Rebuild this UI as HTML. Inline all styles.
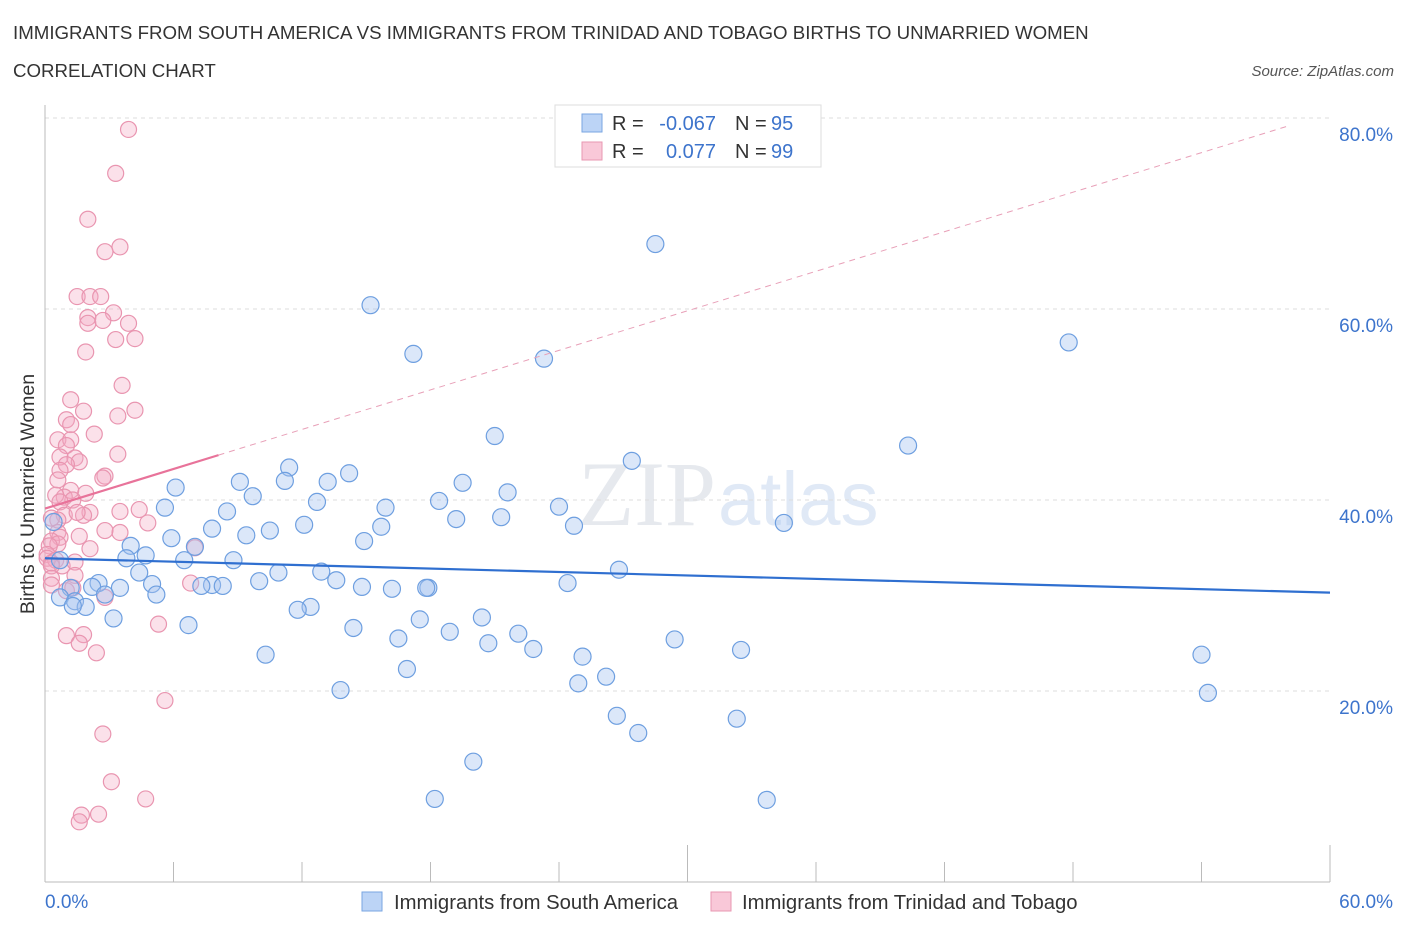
<!DOCTYPE html>
<html><head><meta charset="utf-8"><style>
body{margin:0;background:#fff;font-family:"Liberation Sans",sans-serif;}
svg{display:block}
</style></head><body>
<svg id="chart" width="1406" height="930" xmlns="http://www.w3.org/2000/svg">
<text x="13" y="39" font-size="18.7" fill="#333">IMMIGRANTS FROM SOUTH AMERICA VS IMMIGRANTS FROM TRINIDAD AND TOBAGO BIRTHS TO UNMARRIED WOMEN</text>
<text x="13" y="77" font-size="18.7" fill="#333">CORRELATION CHART</text>
<text x="1394" y="76" font-size="15" fill="#555" font-style="italic" text-anchor="end">Source: ZipAtlas.com</text>
<text x="716" y="525" font-size="92" fill="#e6e9ee" text-anchor="end" font-family="Liberation Serif">ZIP</text>
<text x="718" y="525" font-size="76" fill="#e0e9f6">atlas</text>
<g id="grid"></g><g id="axes"></g>
<g id="pink"></g><g id="blue"></g><g id="lines"></g>
<text transform="translate(34,494) rotate(-90)" font-size="19.5" fill="#333" text-anchor="middle">Births to Unmarried Women</text>
<g>
<rect x="555" y="105" width="266" height="62" fill="#fff" stroke="#ddd"/>
<rect x="582" y="114" width="20" height="18" fill="#bcd4f6" stroke="#7aa6e2"/>
<rect x="582" y="142" width="20" height="18" fill="#f9c8d8" stroke="#e897b2"/>
<text x="612" y="130" font-size="20" fill="#333">R =</text>
<text x="716" y="130" font-size="20" fill="#3d74cc" text-anchor="end">-0.067</text>
<text x="735" y="130" font-size="20" fill="#333">N =</text>
<text x="771" y="130" font-size="20" fill="#3d74cc">95</text>
<text x="612" y="158" font-size="20" fill="#333">R =</text>
<text x="716" y="158" font-size="20" fill="#3d74cc" text-anchor="end">0.077</text>
<text x="735" y="158" font-size="20" fill="#333">N =</text>
<text x="771" y="158" font-size="20" fill="#3d74cc">99</text>
</g>
<g>
<rect x="362" y="892" width="20" height="19" fill="#bcd4f6" stroke="#7aa6e2"/>
<text x="394" y="909" font-size="20.3" fill="#333">Immigrants from South America</text>
<rect x="711" y="892" width="20" height="19" fill="#f9c8d8" stroke="#e897b2"/>
<text x="742" y="909" font-size="20.3" fill="#333">Immigrants from Trinidad and Tobago</text>
</g>
</svg>
<script>
const yTicks=[20,40,60,80];
const xTickLabels=["0.0%","60.0%"];
const blueX=[28.5,15.2,47.8,17.2,23.3,40.3,21.0,27.4,11.4,14.2,9.1,11.2,13.2,19.5,6.1,21.6,9.7,12.7,18.4,15.9,24.0,8.5,5.6,19.2,21.3,24.7,34.5,15.7,12.1,7.8,10.5,9.4,14.9,5.9,4.0,7.0,4.7,8.8,3.8,6.5,0.7,4.4,10.9,12.9,26.8,13.6,10.0,5.0,2.5,2.2,7.8,7.3,8.3,3.5,14.8,16.2,17.9,17.8,24.4,1.2,2.8,5.2,0.7,1.4,1.9,1.3,12.4,11.8,3.2,17.5,20.4,6.7,14.4,18.9,22.1,16.5,20.7,29.4,22.8,32.5,54.0,10.3,25.1,16.9,26.2,24.9,13.8,54.3,26.7,32.3,27.7,20.0,18.2,33.7,0.4];
const blueY=[66.8,60.4,56.5,55.3,54.8,45.7,46.7,44.1,43.4,42.8,41.9,42.0,41.9,41.8,41.3,40.8,40.4,39.8,39.9,39.2,39.3,38.8,39.2,38.0,38.2,37.3,37.6,37.2,37.4,37.0,36.8,36.3,35.7,36.0,35.2,35.1,34.2,33.7,33.9,33.7,33.7,32.4,32.4,32.5,32.7,31.6,31.5,31.2,31.3,30.9,31.1,31.0,31.0,30.8,30.9,30.7,30.8,30.8,31.3,30.8,30.1,30.1,29.8,29.4,28.8,28.9,28.8,28.5,27.6,27.5,27.7,26.9,26.6,26.2,26.0,25.5,25.0,25.4,24.4,24.3,23.8,23.8,23.6,22.3,21.5,20.8,20.1,19.8,17.4,17.1,15.6,12.6,8.7,8.6,37.7];
const pinkX=[3.9,3.3,2.0,3.5,2.8,1.5,2.1,2.6,3.2,2.0,2.0,2.7,3.9,3.3,4.2,1.9,3.6,1.2,1.8,4.2,3.4,1.0,1.2,2.3,0.6,1.2,1.0,3.4,0.7,1.4,1.6,1.0,0.7,2.8,2.7,0.6,1.2,1.9,0.9,0.5,1.3,0.7,2.1,4.4,3.5,1.8,0.9,0.6,0.3,1.5,4.8,0.6,3.5,0.7,2.8,1.6,0.3,0.6,2.1,0.2,0.1,0.1,0.5,0.3,0.8,1.4,0.3,1.4,0.3,0.3,7.0,6.8,1.0,1.3,2.8,1.8,1.0,5.3,2.4,1.6,5.6,2.7,3.1,4.7,1.7,2.5,1.6];
const pinkY=[78.8,74.2,69.4,66.5,66.0,61.3,61.3,61.3,59.6,59.1,58.5,58.8,58.5,56.8,56.9,55.5,52.0,50.5,49.3,49.4,48.8,48.4,47.9,46.9,46.3,46.3,45.7,44.8,44.5,44.4,44.0,43.7,43.1,42.5,42.3,42.1,41.0,40.7,40.3,40.5,40.0,39.8,38.7,39.0,38.8,38.4,38.4,37.9,38.1,38.7,37.6,36.6,36.6,36.1,36.8,36.2,35.7,35.4,34.9,35.2,34.3,33.9,33.7,33.4,33.1,33.5,33.1,32.1,31.8,31.1,35.0,31.3,30.5,30.8,29.8,25.9,25.8,27.0,24.0,25.0,19.0,15.5,10.5,8.7,7.0,7.1,6.3];
const blueTrend=[33.9,30.3];
const pinkTrend=[39.1,44.7,8.1,58.1,79.2];
const NS="http://www.w3.org/2000/svg";
const X=v=>45+v*(1285/60);
const Y=v=>882-v*9.55;
function mk(p,t,a){const e=document.createElementNS(NS,t);for(const k in a)e.setAttribute(k,a[k]);p.appendChild(e);return e;}
const grid=document.getElementById('grid'),axes=document.getElementById('axes');
yTicks.forEach(t=>{
 const l=mk(grid,'line',{x1:45,x2:1330,y1:Y(t),y2:Y(t),stroke:'#ddd','stroke-dasharray':'4,4'});
 
 
 const tx=mk(grid,'text',{x:1393,y:Y(t)+23,'font-size':19,fill:'#3d74cc','text-anchor':'end'});
 tx.textContent=t.toFixed(1)+'%';
 
 
});
mk(axes,'line',{x1:45,x2:45,y1:105,y2:882,stroke:'#bbb'});
mk(axes,'line',{x1:45,x2:1330,y1:882,y2:882,stroke:'#bbb'});
for(let i=0;i<=10;i++){const v=i*6;mk(axes,'line',{x1:X(v),x2:X(v),y1:(i==5||i==10)?845:862,y2:882,stroke:'#bbb'});}
[[0,'start',45],[60,'end',1393]].forEach((d,i)=>{const t=mk(axes,'text',{x:d[2],y:908,'font-size':19,fill:'#3d74cc','text-anchor':d[1]});t.textContent=xTickLabels[i];
 
 });
const bg=document.getElementById('blue'),pg=document.getElementById('pink');
pinkX.forEach((x,i)=>{const c=mk(pg,'circle',{cx:X(x),cy:Y(pinkY[i]),r:8,fill:'rgba(244,170,196,0.35)',stroke:'#e995b0','stroke-width':1.2});
 
 });
blueX.forEach((x,i)=>{const c=mk(bg,'circle',{cx:X(x),cy:Y(blueY[i]),r:8.5,fill:'rgba(164,196,240,0.4)',stroke:'#6e9fe0','stroke-width':1.2});
 
 });
const lg=document.getElementById('lines');
const bl=mk(lg,'line',{x1:X(0),y1:Y(blueTrend[0]),x2:X(60),y2:Y(blueTrend[1]),stroke:'#2f6fd0','stroke-width':2.2});


const pd=mk(lg,'line',{x1:X(pinkTrend[2]),y1:Y(pinkTrend[1]),x2:X(pinkTrend[3]),y2:Y(pinkTrend[4]),stroke:'#e8a0b8','stroke-width':1,'stroke-dasharray':'6,5'});


const pl=mk(lg,'line',{x1:X(0),y1:Y(pinkTrend[0]),x2:X(pinkTrend[2]),y2:Y(pinkTrend[1]),stroke:'#e8739a','stroke-width':2.2});


</script>
</body></html>
